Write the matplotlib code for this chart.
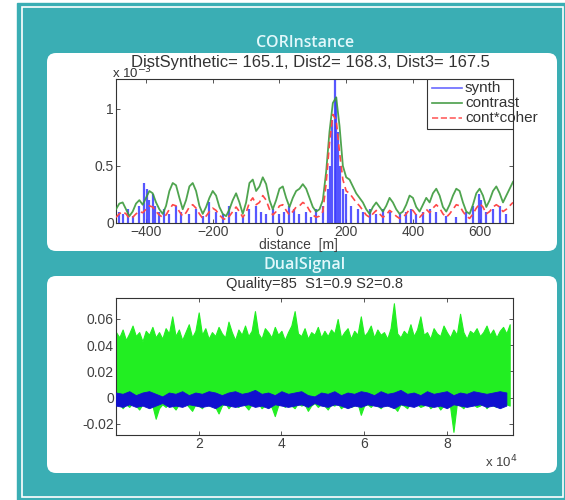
import numpy as np
import matplotlib
matplotlib.use('Agg')
import matplotlib.pyplot as plt
from matplotlib.patches import Rectangle, FancyBboxPatch

plt.rcParams['font.family'] = ['Liberation Sans', 'DejaVu Sans']

# ---- upper panel data (distance in m, values x 1e-3) ----
dist = np.arange(-490, 701, 10)
contrast = [0.12, 0.17, 0.18, 0.12, 0.06, 0.10, 0.17, 0.20, 0.16, 0.22,
            0.28, 0.26, 0.18, 0.12, 0.08, 0.15, 0.28, 0.35, 0.33, 0.22,
            0.12, 0.20, 0.32, 0.35, 0.28, 0.15, 0.08, 0.14, 0.22, 0.28,
            0.24, 0.14, 0.08, 0.06, 0.12, 0.20, 0.26, 0.18, 0.08, 0.18,
            0.35, 0.38, 0.28, 0.32, 0.40, 0.34, 0.20, 0.12, 0.20, 0.30,
            0.32, 0.22, 0.14, 0.22, 0.28, 0.30, 0.34, 0.30, 0.22, 0.14,
            0.10, 0.12, 0.20, 0.45, 0.80, 1.05, 1.10, 0.85, 0.50, 0.40,
            0.38, 0.32, 0.26, 0.22, 0.18, 0.12, 0.08, 0.14, 0.18, 0.14,
            0.10, 0.15, 0.22, 0.18, 0.12, 0.08, 0.10, 0.16, 0.24, 0.22,
            0.14, 0.10, 0.16, 0.22, 0.18, 0.26, 0.30, 0.24, 0.14, 0.10,
            0.16, 0.24, 0.30, 0.28, 0.18, 0.10, 0.08, 0.16, 0.26, 0.30,
            0.24, 0.14, 0.20, 0.28, 0.32, 0.26, 0.18, 0.24, 0.30, 0.36]
cont_coher = [0.05, 0.08, 0.10, 0.08, 0.04, 0.05, 0.08, 0.10, 0.09, 0.12,
              0.15, 0.14, 0.10, 0.07, 0.05, 0.07, 0.12, 0.16, 0.15, 0.10,
              0.06, 0.09, 0.14, 0.16, 0.13, 0.08, 0.04, 0.06, 0.10, 0.13,
              0.11, 0.07, 0.04, 0.03, 0.06, 0.10, 0.14, 0.10, 0.05, 0.09,
              0.18, 0.22, 0.16, 0.18, 0.24, 0.20, 0.12, 0.07, 0.10, 0.15,
              0.16, 0.11, 0.07, 0.10, 0.14, 0.15, 0.18, 0.16, 0.11, 0.07,
              0.05, 0.06, 0.10, 0.35, 0.70, 0.95, 0.90, 0.62, 0.38, 0.28,
              0.26, 0.22, 0.18, 0.15, 0.11, 0.07, 0.05, 0.08, 0.11, 0.08,
              0.05, 0.07, 0.11, 0.09, 0.06, 0.04, 0.05, 0.08, 0.12, 0.11,
              0.07, 0.05, 0.08, 0.12, 0.09, 0.13, 0.16, 0.13, 0.08, 0.05,
              0.08, 0.12, 0.16, 0.15, 0.10, 0.06, 0.04, 0.08, 0.13, 0.17,
              0.14, 0.08, 0.10, 0.14, 0.16, 0.14, 0.10, 0.12, 0.15, 0.18]
synth_pos = [-480, -470, -455, -440, -420, -405, -398, -390, -380, -372, -360, -345,
             -330, -310, -295, -270, -250, -230, -210, -190, -170, -150, -130, -110,
             -90, -70, -55, -40, -20, 0, 15, 30, 45, 60, 80, 95, 110, 130, 145, 152,
             158, 165, 170, 175, 182, 190, 200, 215, 235, 250, 270, 290, 310, 330,
             360, 380, 395, 410, 430, 450, 470, 500, 530, 560, 580, 598, 605, 620,
             640, 660, 680]
synth_val = [0.10, 0.08, 0.12, 0.06, 0.15, 0.35, 0.30, 0.20, 0.25, 0.15, 0.10, 0.12,
             0.08, 0.15, 0.10, 0.08, 0.12, 0.06, 0.18, 0.10, 0.08, 0.15, 0.10, 0.05,
             0.12, 0.15, 0.10, 0.08, 0.12, 0.08, 0.10, 0.15, 0.12, 0.08, 0.10, 0.05,
             0.12, 0.15, 0.30, 0.50, 0.90, 1.25, 1.10, 0.80, 0.50, 0.30, 0.25, 0.15,
             0.12, 0.10, 0.12, 0.08, 0.12, 0.10, 0.08, 0.10, 0.12, 0.08, 0.10, 0.12,
             0.10, 0.06, 0.05, 0.10, 0.15, 0.25, 0.20, 0.10, 0.12, 0.15, 0.08]

# ---- lower panel data ----
sig_x = np.arange(0, 96000, 800)
green_hi = [0.050, 0.046, 0.052, 0.044, 0.049, 0.055, 0.047, 0.050, 0.043, 0.051,
            0.048, 0.054, 0.046, 0.050, 0.045, 0.053, 0.049, 0.062, 0.047, 0.052,
            0.044, 0.050, 0.056, 0.046, 0.051, 0.065, 0.048, 0.053, 0.045, 0.050,
            0.047, 0.054, 0.049, 0.046, 0.058, 0.050, 0.044, 0.052, 0.048, 0.055,
            0.047, 0.051, 0.066, 0.049, 0.045, 0.053, 0.050, 0.046, 0.054, 0.048,
            0.051, 0.044, 0.050, 0.055, 0.066, 0.049, 0.047, 0.053, 0.045, 0.050,
            0.048, 0.054, 0.046, 0.051, 0.047, 0.052, 0.049, 0.060, 0.046, 0.050,
            0.053, 0.045, 0.051, 0.048, 0.062, 0.047, 0.050, 0.055, 0.046, 0.052,
            0.048, 0.050, 0.045, 0.053, 0.072, 0.049, 0.046, 0.051, 0.048, 0.056,
            0.047, 0.052, 0.062, 0.048, 0.050, 0.045, 0.053, 0.049, 0.047, 0.055,
            0.050, 0.046, 0.052, 0.048, 0.064, 0.050, 0.045, 0.051, 0.049, 0.053,
            0.047, 0.050, 0.055, 0.048, 0.052, 0.046, 0.051, 0.054, 0.049, 0.056]
green_lo = [-0.006, -0.004, -0.008, -0.005, -0.007, -0.004, -0.006, -0.009, -0.005, -0.004,
            -0.007, -0.006, -0.016, -0.008, -0.005, -0.007, -0.004, -0.006, -0.009, -0.005,
            -0.006, -0.004, -0.007, -0.010, -0.005, -0.006, -0.008, -0.004, -0.006, -0.005,
            -0.007, -0.012, -0.006, -0.004, -0.008, -0.005, -0.006, -0.007, -0.004, -0.006,
            -0.009, -0.005, -0.006, -0.004, -0.008, -0.006, -0.005, -0.007, -0.014, -0.006,
            -0.004, -0.007, -0.005, -0.006, -0.008, -0.004, -0.006, -0.005, -0.010, -0.006,
            -0.004, -0.007, -0.005, -0.006, -0.009, -0.005, -0.006, -0.004, -0.008, -0.006,
            -0.005, -0.007, -0.006, -0.004, -0.013, -0.006, -0.005, -0.007, -0.004, -0.006,
            -0.008, -0.005, -0.006, -0.004, -0.007, -0.010, -0.005, -0.006, -0.008, -0.004,
            -0.006, -0.005, -0.007, -0.006, -0.004, -0.008, -0.006, -0.005, -0.009, -0.006,
            -0.004, -0.007, -0.026, -0.005, -0.006, -0.008, -0.004, -0.006, -0.005, -0.007,
            -0.006, -0.004, -0.008, -0.005, -0.006, -0.007, -0.004, -0.006, -0.005, -0.006]
blue_x = np.arange(0, 96000, 1600)
blue_hi = [0.004, 0.003, 0.005, 0.002, 0.004, 0.005, 0.003, 0.001, 0.004, 0.003,
           0.005, 0.002, 0.004, 0.003, 0.005, 0.004, 0.002, 0.004, 0.005, 0.003,
           0.004, 0.006, 0.003, 0.004, 0.002, 0.005, 0.003, 0.004, 0.005, 0.002,
           0.001, 0.004, 0.003, 0.005, 0.002, 0.004, 0.003, 0.005, 0.004, 0.002,
           0.005, 0.003, 0.004, 0.006, 0.003, 0.004, 0.002, 0.005, 0.003, 0.004,
           0.005, 0.002, 0.004, 0.003, 0.005, 0.004, 0.003, 0.004, 0.005, 0.004]
blue_lo = [-0.006, -0.007, -0.005, -0.007, -0.006, -0.008, -0.006, -0.004, -0.007, -0.006,
           -0.007, -0.005, -0.006, -0.007, -0.006, -0.008, -0.005, -0.006, -0.007, -0.006,
           -0.005, -0.007, -0.006, -0.008, -0.005, -0.006, -0.007, -0.006, -0.005, -0.007,
           -0.004, -0.006, -0.007, -0.005, -0.006, -0.008, -0.006, -0.007, -0.005, -0.006,
           -0.007, -0.006, -0.008, -0.005, -0.006, -0.007, -0.005, -0.006, -0.007, -0.006,
           -0.008, -0.005, -0.006, -0.007, -0.006, -0.005, -0.007, -0.006, -0.008, -0.006]

teal = '#3aaeb4'
title_col = '#e2f8fb'
tick_col = '#404040'

fig = plt.figure(figsize=(5.65, 5.0), dpi=100)

# background in pixel coords (top-left origin)
bg = fig.add_axes([0, 0, 1, 1], zorder=-1)
bg.set_xlim(0, 565)
bg.set_ylim(500, 0)
bg.axis('off')
bg.add_patch(Rectangle((17, 3), 560, 500, color=teal))
bg.add_patch(Rectangle((22, 7), 541, 490, fill=False, ec='white', lw=1.2))
bg.add_patch(FancyBboxPatch((47, 53), 510, 198, boxstyle='round,pad=0,rounding_size=9',
                            fc='white', ec='none'))
bg.add_patch(FancyBboxPatch((47, 276), 510, 197, boxstyle='round,pad=0,rounding_size=9',
                            fc='white', ec='none'))
bg.text(305, 43, 'CORInstance', color=title_col, fontsize=11.5, ha='center', va='center',
        family='Open Sans', weight='semibold')
bg.text(305, 265, 'DualSignal', color=title_col, fontsize=11.5, ha='center', va='center',
        family='Open Sans', weight='semibold')


def style(ax):
    ax.tick_params(direction='in', top=True, right=True, length=3, width=0.7,
                   labelsize=10, labelcolor=tick_col, colors='#555555', pad=1.5)
    for s in ax.spines.values():
        s.set_color('#333333')
        s.set_linewidth(0.8)


# ---- upper axes ----
ax1 = fig.add_axes([116/565, 1-223/500, 397/565, 144/500])
ax1.vlines(synth_pos, 0, synth_val, color='#3a3aff', lw=1.6, alpha=0.85, zorder=2)
ax1.plot(dist, contrast, color='#3c9a3c', lw=1.3, alpha=0.9, zorder=3)
ax1.plot(dist, cont_coher, color='#ff4848', lw=1.2, dashes=(4, 2.5), zorder=4)
ax1.set_xlim(-490, 700)
ax1.set_ylim(0, 1.26)
ax1.set_xticks([-400, -200, 0, 200, 400, 600])
ax1.set_yticks([0, 0.5, 1])
ax1.set_yticklabels(['0', '0.5', '1'])
style(ax1)
ax1.text(0.49, 1.115, 'DistSynthetic= 165.1, Dist2= 168.3, Dist3= 167.5', transform=ax1.transAxes,
         ha='center', va='center', fontsize=12, color='#333333')
ax1.text(-0.01, 0.985, r'x 10$^{-3}$', transform=ax1.transAxes, ha='left', va='bottom',
         fontsize=9.5, color='#333333')
ax1.text(0.46, -0.15, 'distance  [m]', transform=ax1.transAxes, ha='center', va='center',
         fontsize=10, color=tick_col)

# manual legend (box narrower than text, as in the original)
ax1.add_patch(Rectangle((0.783, 0.653), 0.217, 0.347, transform=ax1.transAxes,
                        fc='white', ec='#333333', lw=0.8, zorder=5))
leg = [('synth', '#6a6aff', '-'), ('contrast', '#4a9e4a', '-'), ('cont*coher', '#ff6060', '--')]
for i, (lab, col, ls) in enumerate(leg):
    yy = 0.9375 - i * 0.104
    ax1.plot([0.796, 0.871], [yy, yy], color=col, ls=ls, lw=1.2, transform=ax1.transAxes,
             zorder=6, clip_on=False)
    ax1.text(0.879, yy, lab, transform=ax1.transAxes, va='center', ha='left', fontsize=11,
             color='#333333', zorder=6, clip_on=False)

# ---- lower axes ----
ax2 = fig.add_axes([116/565, 1-435/500, 397/565, 137/500])
ax2.fill_between(sig_x, green_lo, green_hi, color='#22ee22', lw=0.8, zorder=2)
ax2.fill_between(blue_x, blue_lo, blue_hi, color='#1010d0', lw=0.6, zorder=3)
ax2.set_xlim(0, 96000)
ax2.set_ylim(-0.0284, 0.076)
ax2.set_xticks([20000, 40000, 60000, 80000])
ax2.set_xticklabels(['2', '4', '6', '8'])
ax2.set_yticks([-0.02, 0, 0.02, 0.04, 0.06])
ax2.set_yticklabels(['-0.02', '0', '0.02', '0.04', '0.06'])
style(ax2)
ax2.text(0.5, 1.1, 'Quality=85  S1=0.9 S2=0.8', transform=ax2.transAxes, ha='center',
         va='center', fontsize=10.5, color='#333333')
ax2.text(0.93, -0.2, r'x 10$^4$', transform=ax2.transAxes, ha='left', va='center',
         fontsize=9.5, color=tick_col)

fig.savefig('out.png', dpi=100)
